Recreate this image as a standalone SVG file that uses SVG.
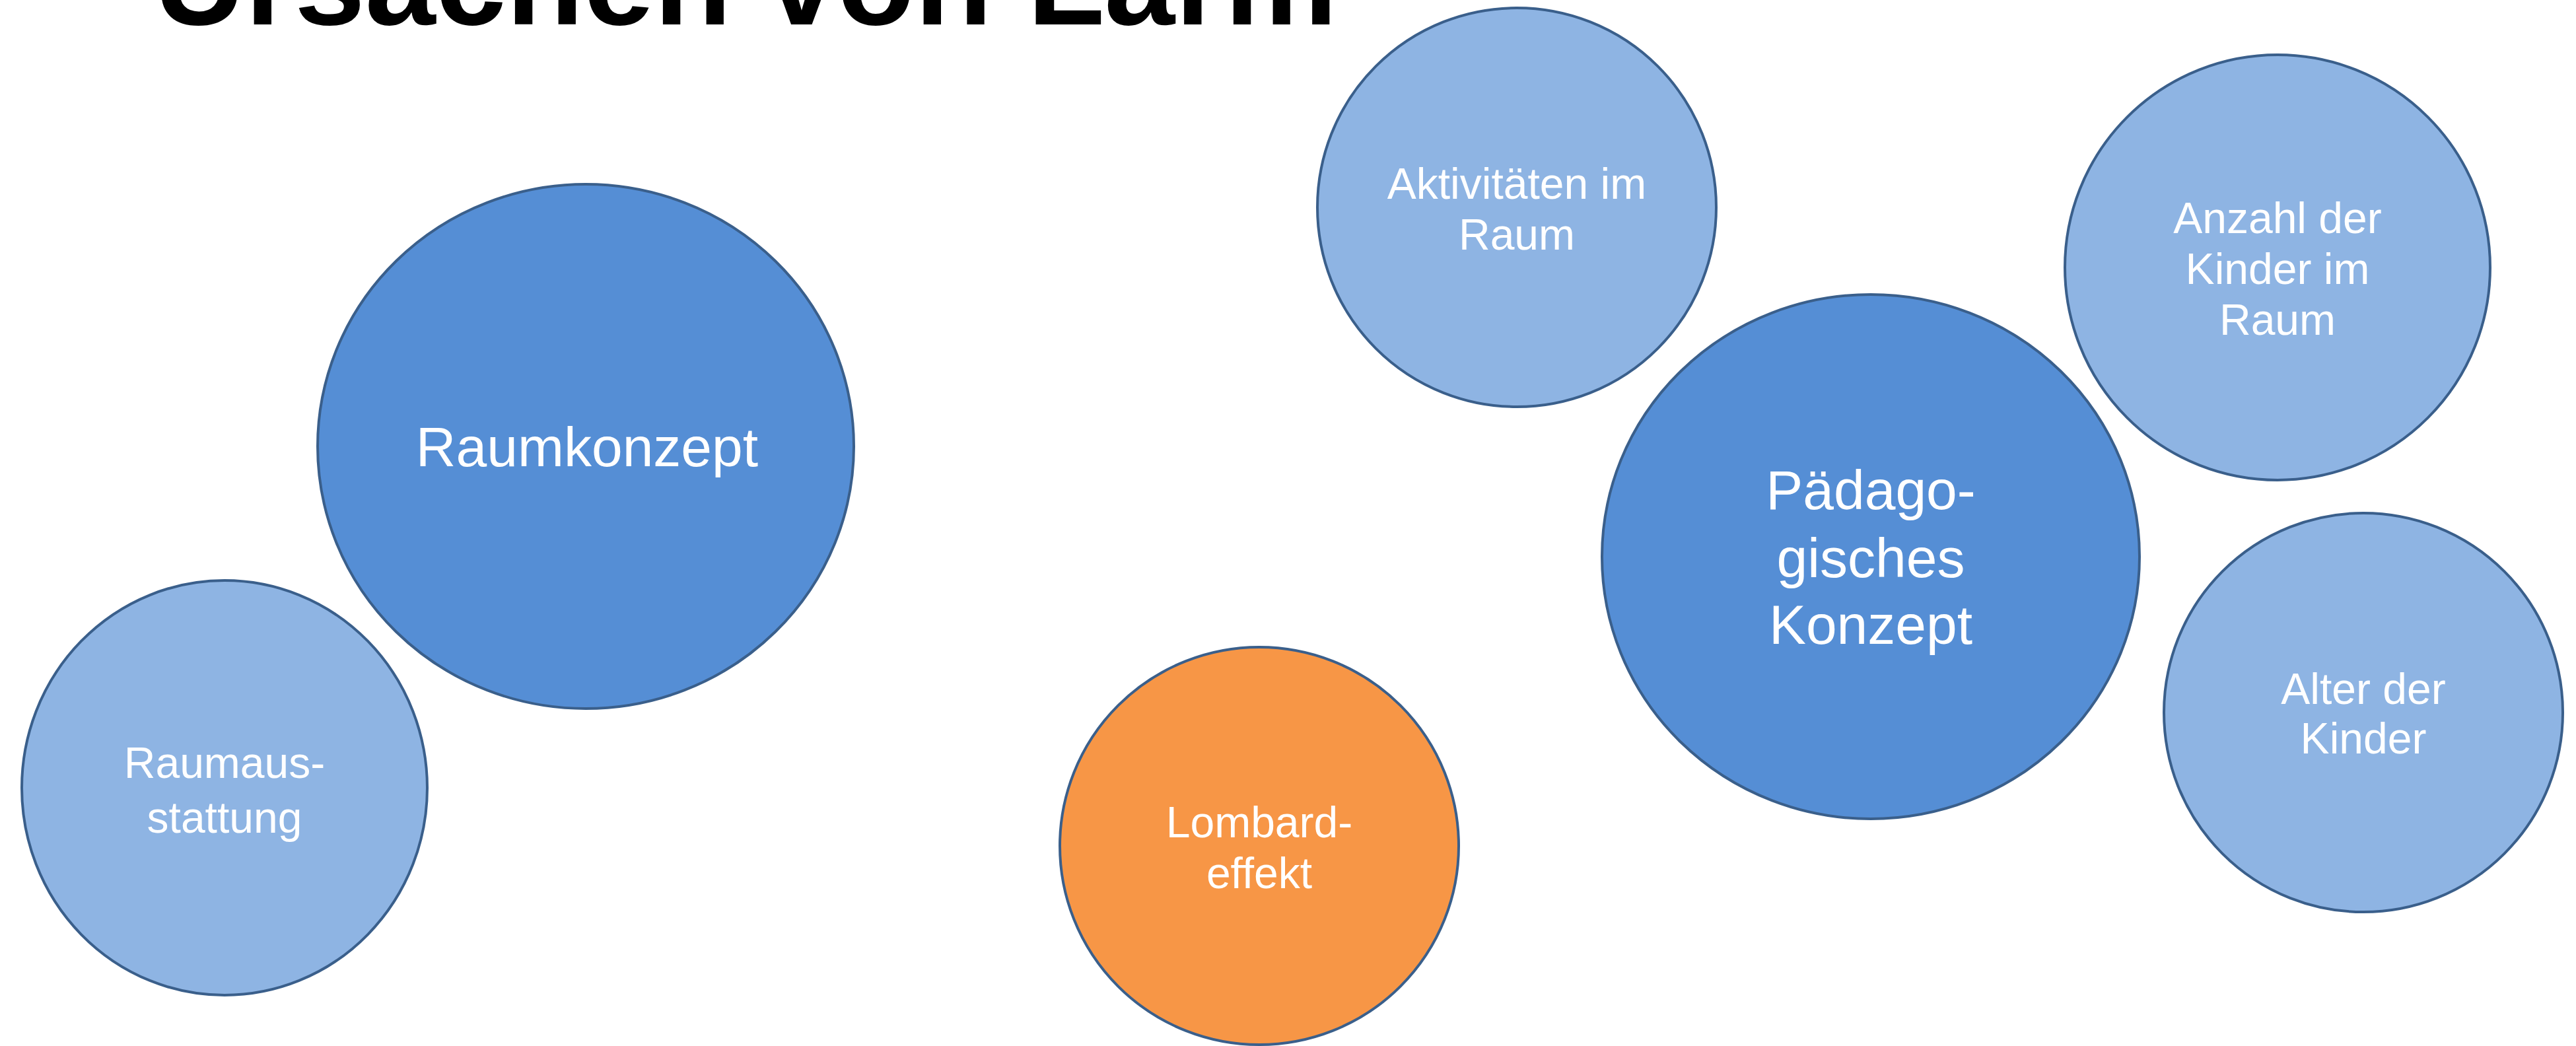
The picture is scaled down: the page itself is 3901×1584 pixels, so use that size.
<svg xmlns="http://www.w3.org/2000/svg" width="3901" height="1584" viewBox="0 0 3901 1584">
<style>
.n{stroke:#3A5F8B;stroke-width:4}
.dark{fill:#558ED5}
.light{fill:#8EB4E3}
.orange{fill:#F79646}
.t{font-family:"Liberation Sans",Arial,sans-serif;fill:#FFFFFF;text-anchor:middle}
.big{font-size:84px}
.sm{font-size:66px}
.title{font-family:"Liberation Sans",Arial,sans-serif;font-weight:bold;font-size:192px;fill:#000000;text-anchor:middle}
</style>
<rect width="3901" height="1584" fill="#FFFFFF"/>
<text class="title" x="1129" y="37">Ursachen von Lärm</text>
<g id="connectors"></g>
<g id="raumkonzept">
<ellipse class="n dark" cx="887" cy="676" rx="406" ry="397"/>
<text class="t big" x="889" y="706">Raumkonzept</text>
</g>
<g id="raumausstattung">
<ellipse class="n light" cx="340" cy="1193" rx="307" ry="314"/>
<text class="t sm" x="340" y="1178">Raumaus-</text>
<text class="t sm" x="340" y="1261">stattung</text>
</g>
<g id="lombardeffekt">
<ellipse class="n orange" cx="1907" cy="1281" rx="302" ry="301"/>
<text class="t sm" x="1907" y="1268">Lombard-</text>
<text class="t sm" x="1907" y="1345">effekt</text>
</g>
<g id="aktivitaeten">
<ellipse class="n light" cx="2297" cy="314" rx="302" ry="302"/>
<text class="t sm" x="2297" y="301">Aktivitäten im</text>
<text class="t sm" x="2297" y="378">Raum</text>
</g>
<g id="paedagogisches">
<ellipse class="n dark" cx="2833" cy="843" rx="407" ry="397"/>
<text class="t big" x="2833" y="771">Pädago-</text>
<text class="t big" x="2833" y="874">gisches</text>
<text class="t big" x="2833" y="975">Konzept</text>
</g>
<g id="anzahl">
<ellipse class="n light" cx="3449" cy="405" rx="322" ry="322"/>
<text class="t sm" x="3449" y="353">Anzahl der</text>
<text class="t sm" x="3449" y="430">Kinder im</text>
<text class="t sm" x="3449" y="507">Raum</text>
</g>
<g id="alter">
<ellipse class="n light" cx="3579" cy="1079" rx="302" ry="302"/>
<text class="t sm" x="3579" y="1066">Alter der</text>
<text class="t sm" x="3579" y="1141">Kinder</text>
</g>
</svg>
